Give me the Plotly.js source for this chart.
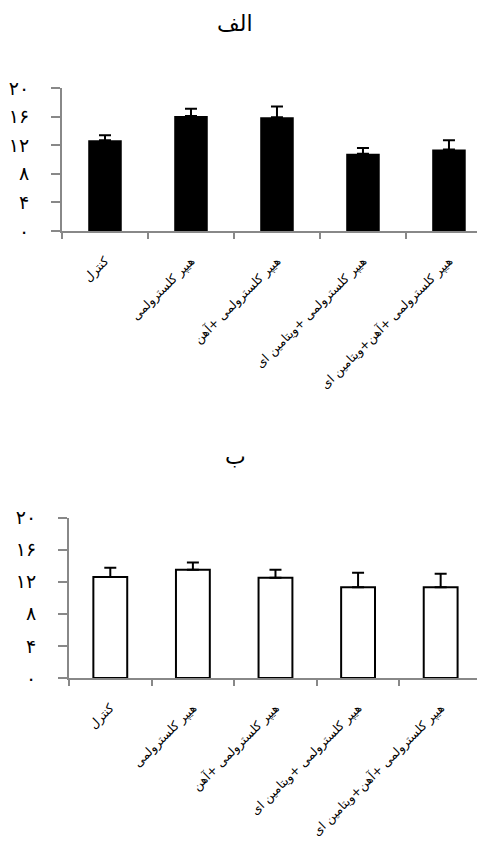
<!DOCTYPE html>
<html>
<head>
<meta charset="utf-8">
<script src="https://cdn.plot.ly/plotly-3.0.1.min.js"></script>
<style>html,body{margin:0;padding:0;background:#fff;}#chart{width:479px;height:841px;}</style>
</head>
<body>
<div id="chart"></div>
<script>
var categories = ['کنترل', 'هیپر کلسترولمی', 'هیپر کلسترولمی +آهن', 'هیپر کلسترولمی +ویتامین ای', 'هیپر کلسترولمی +آهن+ویتامین ای'];
var valuesA = [12.7, 16.1, 15.9, 10.8, 11.4];
var errorsA = [0.7, 1.0, 1.5, 0.8, 1.3];
var valuesB = [12.6, 13.5, 12.5, 11.3, 11.3];
var errorsB = [1.15, 0.9, 1.0, 1.8, 1.7];
var yTickVals = [0, 4, 8, 12, 16, 20];
var yTickText = ['۰', '۴', '۸', '۱۲', '۱۶', '۲۰'];
var titleA = 'الف';
var titleB = 'ب';

var FONT = 'DejaVu Sans, Noto Sans, sans-serif';
var zerosA = errorsA.map(function(){return 0;});
var zerosB = errorsB.map(function(){return 0;});

var traces = [
  {type:'bar', x:categories, y:valuesA, xaxis:'x', yaxis:'y', width:0.39,
   marker:{color:'#000', line:{width:0}},
   error_y:{type:'data', array:errorsA, arrayminus:zerosA, symmetric:false, color:'#000', thickness:2, width:6},
   hoverinfo:'none'},
  {type:'bar', x:categories, y:valuesB, xaxis:'x2', yaxis:'y2', width:0.41,
   marker:{color:'#fff', line:{color:'#000', width:2}},
   error_y:{type:'data', array:errorsB, arrayminus:zerosB, symmetric:false, color:'#000', thickness:2, width:6},
   hoverinfo:'none'}
];

function yax(domain, anchor){
  return {domain:domain, anchor:anchor, range:[0,20], tickvals:yTickVals, ticktext:yTickText,
    ticks:'outside', ticklen:9, tickwidth:2, tickcolor:'#888', showline:true, linecolor:'#888', linewidth:2,
    showgrid:false, zeroline:false, ticklabelstandoff:18, tickfont:{family:FONT, size:19, color:'#000'}, fixedrange:true};
}
function xax(domain, anchor, range){
  return {domain:domain, anchor:anchor, type:'category', range:range, tickson:'boundaries',
    ticks:'outside', ticklen:6, tickwidth:2, tickcolor:'#888', showline:true, linecolor:'#888', linewidth:2,
    showgrid:false, zeroline:false, tickangle:-45, ticklabelstandoff:16,
    tickfont:{family:FONT, size:12.3, color:'#000'}, fixedrange:true};
}

var layout = {
  width:479, height:841, margin:{l:0, r:0, t:0, b:0},
  paper_bgcolor:'#fff', plot_bgcolor:'#fff', showlegend:false, bargap:0.6,
  xaxis: xax([62/479, 477/479], 'y', [-0.5, 4.326]),
  yaxis: yax([1-231/841, 1-88/841], 'x'),
  xaxis2: xax([69/479, 477/479], 'y2', [-0.5, 4.44]),
  yaxis2: yax([1-678/841, 1-517.5/841], 'x2'),
  annotations:[
    {text:titleA, xref:'paper', yref:'paper', x:235/479, y:1-24/841, showarrow:false, xanchor:'center', yanchor:'middle', font:{family:FONT, size:22, color:'#000'}},
    {text:titleB, xref:'paper', yref:'paper', x:235/479, y:1-456/841, showarrow:false, xanchor:'center', yanchor:'middle', font:{family:FONT, size:22, color:'#000'}}
  ]
};

Plotly.newPlot('chart', traces, layout, {displayModeBar:false, staticPlot:true});
</script>
</body>
</html>
